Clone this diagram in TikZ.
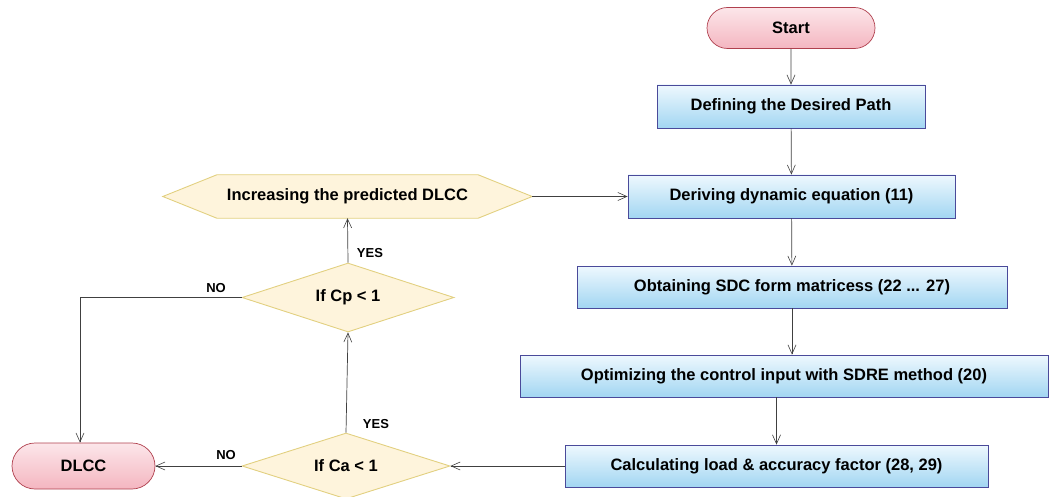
\documentclass[tikz,border=0pt]{standalone}
\usepackage{fontspec}
\setmainfont{Liberation Sans}
\usetikzlibrary{shapes.geometric,shapes.misc,arrows.meta}
\definecolor{lineC}{HTML}{404040}
\definecolor{pinkB}{HTML}{B0404E}
\definecolor{pinkT}{HTML}{FCE6EA}
\definecolor{pinkD}{HTML}{F4B6C0}
\definecolor{blueB}{HTML}{4A4A9A}
\definecolor{blueT}{HTML}{EEF8FE}
\definecolor{blueD}{HTML}{A2D6F2}
\definecolor{yelB}{HTML}{E2D080}
\definecolor{yelF}{HTML}{FEF4DC}
\tikzset{
  txt/.style={font=\fontsize{16.5}{18}\selectfont\bfseries, text=black},
  term/.style={txt, rounded rectangle, draw=pinkB, line width=0.7pt, top color=pinkT, bottom color=pinkD, inner sep=0pt},
  procbox/.style={txt, rectangle, draw=blueB, line width=0.8pt, top color=blueT, bottom color=blueD, inner sep=0pt},
  decis/.style={txt, diamond, draw=yelB, line width=0.9pt, fill=yelF, inner sep=0pt, aspect=3},
  hexframe/.style={draw=yelB, line width=0.9pt, fill=yelF},
  conn/.style={draw=lineC, line width=0.7pt, -{Straight Barb[length=9pt,width=8pt,line width=0.6pt]}},
  lbl/.style={font=\fontsize{13}{15}\selectfont\bfseries, text=black}
}
\begin{document}
\begin{tikzpicture}[x=1pt,y=-1pt]
\useasboundingbox (0,0) rectangle (1051,497);
\node[term, minimum width=168, minimum height=41] (start) at (791,28) {Start};
\node[procbox, minimum width=268, minimum height=43] (path) at (791,106.5) {Defining the Desired Path};
\node[procbox, minimum width=327, minimum height=43] (deriv) at (791.5,196.5) {Deriving dynamic equation (11)};
\node[procbox, minimum width=430, minimum height=42] (sdc) at (792,287) {Obtaining SDC form matricess (22 ... 27)};
\node[procbox, minimum width=528, minimum height=42] (opt) at (784,376) {Optimizing the control input with SDRE method (20)};
\node[procbox, minimum width=423, minimum height=42] (calc) at (776.5,466) {Calculating load \& accuracy factor (28, 29)};
\node[decis, minimum width=208, minimum height=66] (ca) at (346,466) {If Ca < 1};
\node[decis, minimum width=212, minimum height=69] (cp) at (348,297.5) {If Cp < 1};
\node[rectangle, minimum width=369, minimum height=43, inner sep=0pt] (hex) at (347.5,196.5) {};
\filldraw[hexframe] (hex.west) -- ([xshift=54]hex.north west) -- ([xshift=-54]hex.north east) -- (hex.east) -- ([xshift=-54]hex.south east) -- ([xshift=54]hex.south west) -- cycle;
\node[txt] (hextext) at (hex) {Increasing the predicted DLCC};
\node[term, minimum width=143, minimum height=46] (dlcc) at (83.5,466) {DLCC};
\coordinate (corner) at (80,297.5);
\draw[conn] (start) -- (path);
\draw[conn] (path) -- (deriv);
\draw[conn] (deriv) -- (sdc);
\draw[conn] (sdc.south) -- (sdc.south|-opt.north);
\draw[conn] (opt.south-|calc.north) -- (calc.north);
\draw[conn] (calc.west) -- (ca.east);
\draw[conn] (ca.west) -- (dlcc.east);
\draw[conn] (ca.north) -- (cp.south);
\draw[conn] (cp.north) -- (hex.south);
\draw[conn] (hex.east) -- (deriv.west);
\draw[conn] (cp.west) -- (corner) -- (corner|-dlcc.north);
\node[lbl] (yes1) at (376,424) {YES};
\node[lbl] (yes2) at (370,253) {YES};
\node[lbl] (no1) at (216,288) {NO};
\node[lbl] (no2) at (226,455) {NO};
\end{tikzpicture}
\end{document}
